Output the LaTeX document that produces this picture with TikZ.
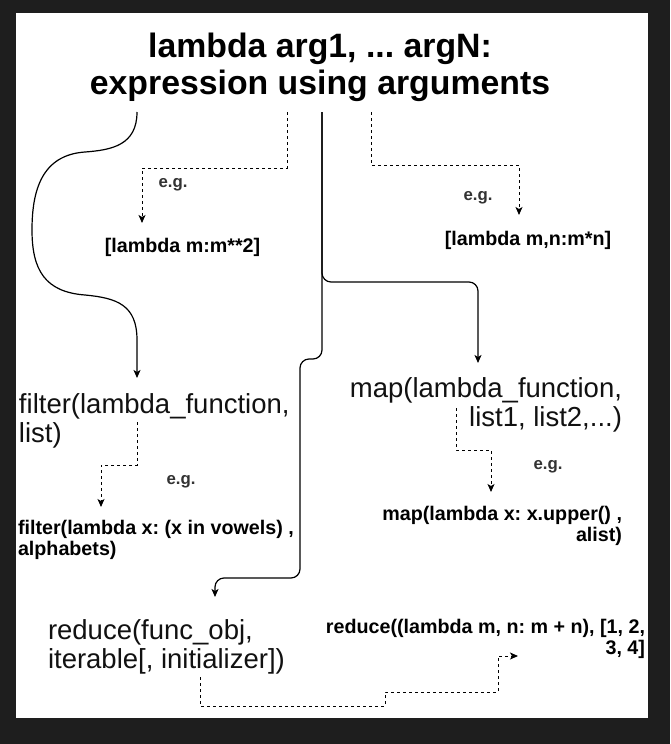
\documentclass[tikz,border=0pt]{standalone}
\usepackage{fontspec}
\setmainfont{Liberation Sans}
\usetikzlibrary{arrows.meta}
\definecolor{framebg}{HTML}{1E1E1E}
\definecolor{egcol}{HTML}{333333}
\definecolor{bigcol}{HTML}{111111}
\frenchspacing
\begin{document}
\begin{tikzpicture}[x=1pt,y=-1pt,
  every node/.style={inner sep=0pt, outer sep=0pt},
  titletxt/.style={font=\bfseries\fontsize{33.8}{37}\selectfont, align=center},
  bigtxt/.style={font=\fontsize{27.5}{29}\selectfont, text=bigcol},
  smalltxt/.style={font=\bfseries\fontsize{19.7}{21.5}\selectfont},
  egtxt/.style={font=\bfseries\fontsize{16.8}{18}\selectfont, text=egcol},
  arrowtip/.style={-{Stealth[length=8pt,width=7pt,inset=2pt]}},
  solidedge/.style={draw=black, line width=1.2pt, arrowtip},
  dashededge/.style={draw=black, line width=1pt, dash pattern=on 3pt off 3pt, arrowtip}
]
\useasboundingbox (0,0) rectangle (670,744);
\fill[framebg] (0,0) rectangle (670,744);
\fill[white] (16,13) rectangle (648,718);

% texts
\node[titletxt] (title) at (320,67) {lambda arg1, ... argN:\\expression using arguments};
\node[egtxt] (eg1) at (173,185) {e.g.};
\node[smalltxt] (ex1) at (182.5,247) {[lambda m:m**2]};
\node[egtxt] (eg2) at (478,198) {e.g.};
\node[smalltxt] (ex2) at (528,240) {[lambda m,n:m*n]};
\node[bigtxt, align=left, anchor=west] (filter) at (19,421) {filter(lambda\_function,\\list)};
\node[egtxt] (eg3) at (181,482) {e.g.};
\node[smalltxt, align=left, anchor=west] (fex) at (18,540) {filter(lambda x: (x in vowels) ,\\alphabets)};
\node[bigtxt, align=right, anchor=east] (map) at (622,405) {map(lambda\_function,\\list1, list2,...)};
\node[egtxt] (eg4) at (548,467) {e.g.};
\node[smalltxt, align=right, anchor=east] (mex) at (622,526) {map(lambda x: x.upper() ,\\alist)};
\node[bigtxt, align=left, anchor=west] (reduce) at (48,647) {reduce(func\_obj,\\iterable[, initializer])};
\node[smalltxt, align=right, anchor=east] (rex) at (645,639) {reduce((lambda m, n: m + n), [1, 2,\\3, 4]};

% connector end points
\coordinate (tA) at (137,112);
\coordinate (tB) at (287,112);
\coordinate (tC) at (322,112);
\coordinate (tD) at (371,112);
\coordinate (filterIn) at (137,378);
\coordinate (mapIn) at (478,363);
\coordinate (reduceIn) at (215,597);
\coordinate (ex1In) at (142,223);
\coordinate (ex2In) at (519,215);
\coordinate (filterOut) at (137,422);
\coordinate (fexIn) at (101,507);
\coordinate (mapOut) at (456,408);
\coordinate (mexIn) at (491,492);
\coordinate (reduceOut) at (200,677);
\coordinate (rexIn) at (518,656);

% solid connectors
\draw[solidedge] (tA) .. controls (137,145) and (112,150) .. (85,152)
  .. controls (42,155) and (32,190) .. (32,230)
  .. controls (32,270) and (45,292) .. (85,295)
  .. controls (117,298) and (137,305) .. (137,340) -- (filterIn);
\draw[solidedge, rounded corners=9pt] (tC) -- (322,282) -- (478,282) -- (mapIn);
\draw[solidedge, rounded corners=9pt] (tC) -- (322,359) -- (300,359) -- (300,578) -- (215,578) -- (reduceIn);

% dashed connectors
\draw[dashededge] (tB) -- (287,168) -- (142,168) -- (ex1In);
\draw[dashededge] (tD) -- (371,165) -- (519,165) -- (ex2In);
\draw[dashededge] (filterOut) -- (137,465) -- (101,465) -- (fexIn);
\draw[dashededge] (mapOut) -- (456,450) -- (491,450) -- (mexIn);
\draw[dashededge] (reduceOut) -- (200,706) -- (385,706) -- (385,692) -- (498,692) -- (498,656) -- (rexIn);
\end{tikzpicture}
\end{document}
